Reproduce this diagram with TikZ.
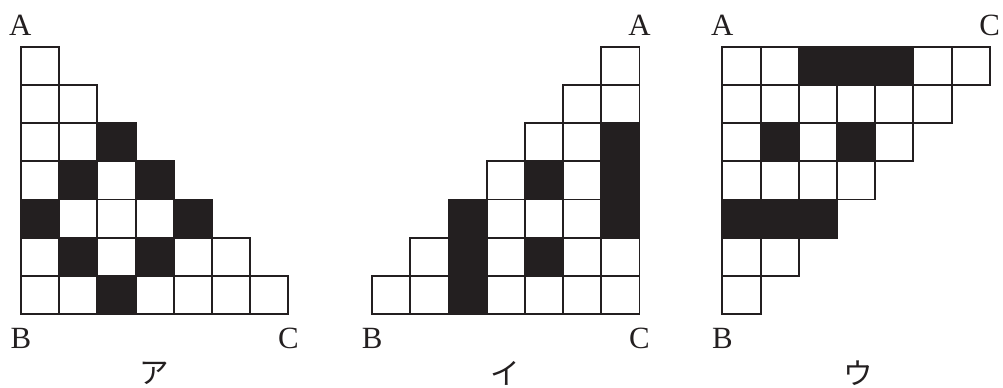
\documentclass[tikz,border=0pt]{standalone}
\usepackage{fontspec}
\setmainfont{Liberation Serif}
\newfontfamily\jpfont{Noto Sans CJK JP}
\usepackage{tikz}
\usetikzlibrary{positioning}
\definecolor{ink}{HTML}{231F20}

\begin{document}
\begin{tikzpicture}[
    cell/.style={draw=ink, line width=1.4pt, fill=white},
    dark cell/.style={draw=ink, line width=1.4pt, fill=ink},
    corner/.style={text=ink, inner sep=0pt, font=\fontsize{23}{26}\selectfont},
    caption/.style={text=ink, inner sep=0pt, font=\jpfont\fontsize{22}{25}\selectfont}
]
    \useasboundingbox (0,0) rectangle (26.257,10.131);

    % Grid a: corner at the bottom left
    \begin{scope}[shift={(0.55,1.91)}]
        \foreach \r in {0,...,6} {
            \pgfmathtruncatemacro\last{6-\r}
            \foreach \c in {0,...,\last} \draw[cell] (\c,\r) rectangle ++(1,1);
        }
        \foreach \c/\r in {2/0,1/1,3/1,0/2,4/2,1/3,3/3,2/4}
            \path[dark cell] (\c,\r) rectangle ++(1,1);
        \node[corner] (A1) at (-0.02,7.55) {A};
        \node[corner] (B1) at (0,-0.65) {B};
        \node[corner] (C1) at (7,-0.65) {C};
        \node[caption] (k1) at (3.5,-1.55) {ア};
    \end{scope}

    % Grid i: corner at the bottom right
    \begin{scope}[shift={(9.74,1.91)}]
        \foreach \r in {0,...,6} {
            \foreach \c in {\r,...,6} \draw[cell] (\c,\r) rectangle ++(1,1);
        }
        \foreach \c/\r in {2/0,2/1,4/1,2/2,6/2,4/3,6/3,6/4}
            \path[dark cell] (\c,\r) rectangle ++(1,1);
        \node[corner] (A2) at (7,7.55) {A};
        \node[corner] (B2) at (0,-0.65) {B};
        \node[corner] (C2) at (7,-0.65) {C};
        \node[caption] (k2) at (3.5,-1.55) {イ};
    \end{scope}

    % Grid u: corner at the top left
    \begin{scope}[shift={(18.91,1.91)}]
        \foreach \r in {0,...,6} {
            \foreach \c in {0,...,\r} \draw[cell] (\c,\r) rectangle ++(1,1);
        }
        \foreach \c/\r in {2/6,3/6,4/6,1/4,3/4,0/2,1/2,2/2}
            \path[dark cell] (\c,\r) rectangle ++(1,1);
        \node[corner] (A3) at (0,7.55) {A};
        \node[corner] (B3) at (0,-0.65) {B};
        \node[corner] (C3) at (7,7.55) {C};
        \node[caption] (k3) at (3.55,-1.55) {ウ};
    \end{scope}
\end{tikzpicture}
\end{document}
